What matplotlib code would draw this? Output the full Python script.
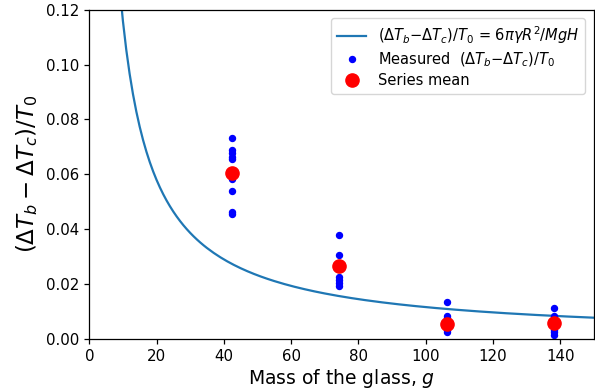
import numpy as np
import matplotlib
matplotlib.use("Agg")
import matplotlib.pyplot as plt

# measured (ΔTb-ΔTc)/T0 for each glass mass (g)
mass_1 = 42.4
meas_1 = [0.0731, 0.0689, 0.0677, 0.0665, 0.0655, 0.0583, 0.0538, 0.0462, 0.0455]
mass_2 = 74.3
meas_2 = [0.0377, 0.0306, 0.0224, 0.0213, 0.0204, 0.0193]
mass_3 = 106.4
meas_3 = [0.0134, 0.0084, 0.0076, 0.0050, 0.0033, 0.0026]
mass_4 = 138.3
meas_4 = [0.0111, 0.0084, 0.0072, 0.0050, 0.0033, 0.0026, 0.0016]

masses = [mass_1, mass_2, mass_3, mass_4]
measured = [meas_1, meas_2, meas_3, meas_4]
series_mean = [0.0604, 0.0266, 0.0055, 0.0057]

# theory: 6*pi*gamma*R^2/(g*H), expressed in grams
coef = 1.16
M = np.arange(1, 151)
theory = coef / M

fig = plt.figure(figsize=(5.95, 3.9), dpi=100)
ax = fig.add_axes([0.150, 0.131, 0.848, 0.844])

ax.plot(M, theory, color='#1f77b4', lw=1.6,
        label=r'$(\Delta T_b{-}\Delta T_c)/T_0$ = $6\pi\gamma R^2/MgH$')

first = True
for m, vals in zip(masses, measured):
    ax.plot([m] * len(vals), vals, 'o', color='blue', ms=4.3, ls='none',
            label=r'Measured  $(\Delta T_b{-}\Delta T_c)/T_0$' if first else None)
    first = False

ax.plot(masses, series_mean, 'o', color='red', ms=9.5, ls='none', label='Series mean')

ax.set_xlim(0, 150)
ax.set_ylim(0, 0.12)
ax.set_xticks(np.arange(0, 141, 20))
ax.set_yticks(np.arange(0, 0.121, 0.02))
ax.set_yticklabels([f'{v:.2f}' for v in np.arange(0, 0.121, 0.02)])
ax.tick_params(labelsize=10.8, length=3.8, width=0.9)
for s in ax.spines.values():
    s.set_linewidth(0.9)

ax.set_xlabel('Mass of the glass, $g$', fontsize=13.5, labelpad=2)
ax.set_ylabel(r'$(\Delta T_b - \Delta T_c)/T_0$', fontsize=16.5, labelpad=4)
ax.legend(loc='upper right', fontsize=10.5, numpoints=1, labelspacing=0.3,
          borderaxespad=0.6)

fig.savefig('out.png', dpi=100)
